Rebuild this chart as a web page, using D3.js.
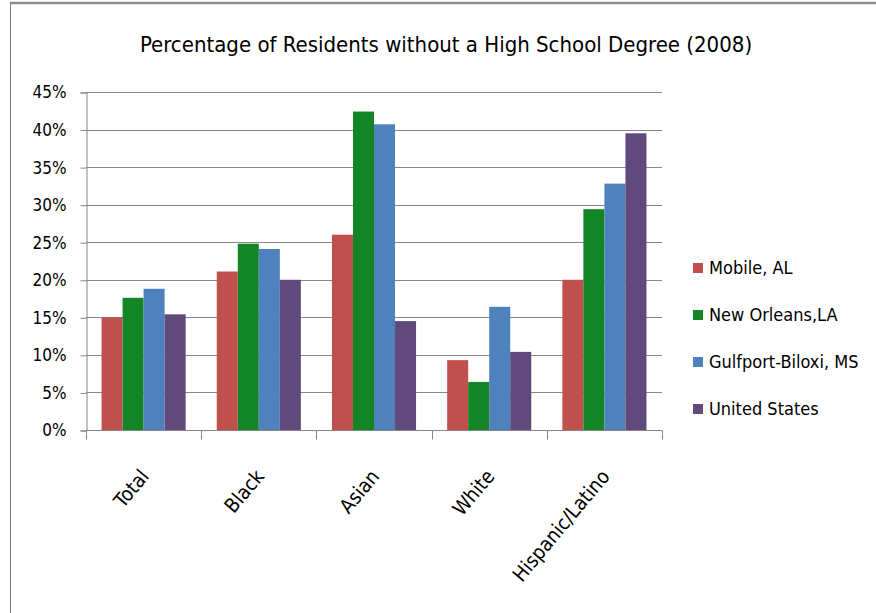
<!DOCTYPE html>
<html lang="en">
<head>
<meta charset="utf-8">
<title>Percentage of Residents without a High School Degree (2008)</title>
<script src="https://cdn.jsdelivr.net/npm/d3@7"></script>
<style>
  body { margin: 0; background: #fff; }
  svg text { font-family: "Liberation Sans Narrow", "DejaVu Sans Condensed", "Open Sans", sans-serif; fill: #000; }
</style>
</head>
<body>
<script>
// data
var categories = ["Total", "Black", "Asian", "White", "Hispanic/Latino"];
var seriesNames = ["Mobile, AL", "New Orleans,LA", "Gulfport-Biloxi, MS", "United States"];
var mobile = [15.0, 21.1, 26.0, 9.3, 20.0];
var newOrleans = [17.6, 24.8, 42.4, 6.4, 29.4];
var gulfport = [18.8, 24.1, 40.7, 16.4, 32.8];
var unitedStates = [15.4, 20.0, 14.5, 10.4, 39.5];
var yTicks = [0, 5, 10, 15, 20, 25, 30, 35, 40, 45];
var colors = ["#c0504d", "#138526", "#4f81bd", "#604a7b"];

var series = [mobile, newOrleans, gulfport, unitedStates];

var width = 876, height = 613;
var plot = { left: 86, right: 662, top: 92, bottom: 430 };

var svg = d3.select("body").append("svg")
    .attr("width", width)
    .attr("height", height);

// frame lines at top and left, like the clipped screenshot
svg.append("line").attr("x1", 10).attr("x2", width).attr("y1", 3).attr("y2", 3)
    .attr("stroke", "#8c8c8c").attr("stroke-width", 2.5);
svg.append("line").attr("x1", 10.5).attr("x2", 10.5).attr("y1", 2).attr("y2", height)
    .attr("stroke", "#7a7a7a").attr("stroke-width", 1);

// title
svg.append("text")
    .attr("x", 446)
    .attr("y", 52)
    .attr("text-anchor", "middle")
    .style("font-size", "22px")
    .text("Percentage of Residents without a High School Degree (2008)");

var y = d3.scaleLinear().domain([0, 45]).range([plot.bottom, plot.top]);
var x0 = d3.scaleBand().domain(categories).range([plot.left, plot.right]).paddingInner(0.27).paddingOuter(0.135);
var x1 = d3.scaleBand().domain(d3.range(series.length)).range([0, x0.bandwidth()]);

// gridlines
svg.append("g")
    .selectAll("line")
    .data(yTicks.slice(1))
    .enter()
    .append("line")
    .attr("x1", plot.left)
    .attr("x2", plot.right)
    .attr("y1", function(d) { return Math.round(y(d)) + 0.5; })
    .attr("y2", function(d) { return Math.round(y(d)) + 0.5; })
    .attr("stroke", "#868686")
    .attr("stroke-width", 1);

// y axis
var yAxis = svg.append("g")
    .attr("transform", "translate(" + (plot.left + 0.5) + ",0.5)")
    .call(d3.axisLeft(y).tickValues(yTicks).tickSize(6).tickPadding(14)
        .tickFormat(function(d) { return d + "%"; }));
yAxis.selectAll("path, line").attr("stroke", "#868686");
yAxis.selectAll("text").style("font-size", "17px");

// bars
svg.append("g")
    .selectAll("g")
    .data(series)
    .enter()
    .append("g")
    .attr("fill", function(d, i) { return colors[i]; })
    .each(function(vals, si) {
        d3.select(this).selectAll("rect")
            .data(vals)
            .enter()
            .append("rect")
            .attr("x", function(d, ci) { return x0(categories[ci]) + x1(si); })
            .attr("width", x1.bandwidth())
            .attr("y", function(d) { return y(d); })
            .attr("height", function(d) { return plot.bottom - y(d); });
    });

// x axis with ticks between groups
var xAxis = svg.append("g")
    .attr("transform", "translate(0," + (plot.bottom + 0.5) + ")");
xAxis.append("line")
    .attr("x1", plot.left).attr("x2", plot.right)
    .attr("stroke", "#868686");
xAxis.selectAll("line.tick")
    .data(d3.range(categories.length + 1))
    .enter()
    .append("line")
    .attr("class", "tick")
    .attr("x1", function(i) { return Math.round(plot.left + i * (plot.right - plot.left) / categories.length) + 0.5; })
    .attr("x2", function(i) { return Math.round(plot.left + i * (plot.right - plot.left) / categories.length) + 0.5; })
    .attr("y1", 0).attr("y2", 9)
    .attr("stroke", "#868686");

xAxis.selectAll("text")
    .data(categories)
    .enter()
    .append("text")
    .attr("transform", function(d) {
        return "translate(" + (x0(d) + x0.bandwidth() / 2 + 1) + ",42) rotate(-50)";
    })
    .attr("text-anchor", "end")
    .attr("dy", "0.35em")
    .style("font-size", "20px")
    .text(function(d) { return d; });

// legend
var legend = svg.append("g")
    .selectAll("g")
    .data(seriesNames)
    .enter()
    .append("g")
    .attr("transform", function(d, i) { return "translate(693," + (268 + i * 47) + ")"; });
legend.append("rect")
    .attr("x", 0).attr("y", -5)
    .attr("width", 10).attr("height", 10)
    .attr("fill", function(d, i) { return colors[i]; });
legend.append("text")
    .attr("x", 16)
    .attr("dy", "0.35em")
    .style("font-size", "18px")
    .text(function(d) { return d; });
</script>
</body>
</html>
